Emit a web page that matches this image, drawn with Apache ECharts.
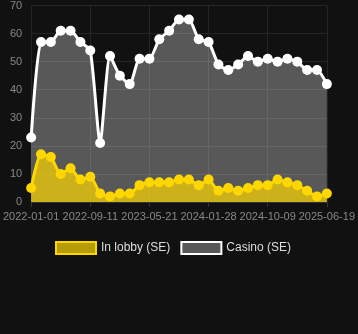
<!DOCTYPE html>
<html>
<head>
<meta charset="utf-8">
<script src="https://cdn.jsdelivr.net/npm/echarts@6/dist/echarts.min.js"></script>
<style>html,body{margin:0;padding:0;background:#111111;}#c{width:358px;height:334px;}</style>
</head>
<body>
<div id="c"></div>
<script>
const categories = ['2022-01-01','2022-02-12','2022-03-26','2022-05-07','2022-06-18','2022-07-30','2022-09-11','2022-10-23','2022-12-04','2023-01-15','2023-02-26','2023-04-09','2023-05-21','2023-07-02','2023-08-13','2023-09-24','2023-11-05','2023-12-17','2024-01-28','2024-03-10','2024-04-21','2024-06-02','2024-07-14','2024-08-26','2024-10-09','2024-11-20','2025-01-01','2025-02-12','2025-03-26','2025-05-08','2025-06-19'];
const inLobby = [5,17,16,10,12,8,9,3,2,3,3,6,7,7,7,8,8,6,8,4,5,4,5,6,6,8,7,6,4,2,3];
const casino = [23,57,57,61,61,57,54,21,52,45,42,51,51,58,61,65,65,58,57,49,47,49,52,50,51,50,51,50,47,47,42];
const yTicks = {min:0, max:70, interval:10};

const chart = echarts.init(document.getElementById('c'));
chart.setOption({
  backgroundColor:'#111111',
  animation:false,
  grid:{left:31, right:29, top:5, bottom:132},
  legend:{
    top:236, left:50, icon:'rect', itemWidth:40, itemHeight:12, itemGap:10,
    textStyle:{color:'#dddddd', fontSize:12, fontFamily:'Liberation Sans, Arial, sans-serif'},
    data:[
      {name:'In lobby (SE)', itemStyle:{color:'rgba(255,215,0,0.7)', borderColor:'#FFD700', borderWidth:2}},
      {name:'Casino (SE)', itemStyle:{color:'rgba(255,255,255,0.3)', borderColor:'#FFFFFF', borderWidth:2}}
    ]
  },
  xAxis:{
    type:'category', data:categories, boundaryGap:false,
    axisLine:{lineStyle:{color:'#333333'}},
    axisTick:{show:true, interval:5, lineStyle:{color:'#333333'}},
    axisLabel:{interval:5, color:'#888888', fontSize:11, margin:9, fontFamily:'Liberation Sans, Arial, sans-serif'},
    splitLine:{show:true, interval:5, lineStyle:{color:'#252525'}}
  },
  yAxis:{
    type:'value', min:yTicks.min, max:yTicks.max, interval:yTicks.interval,
    axisLine:{show:false}, axisTick:{show:false},
    axisLabel:{color:'#888888', fontSize:11, margin:9, fontFamily:'Liberation Sans, Arial, sans-serif'},
    splitLine:{lineStyle:{color:'#252525'}}
  },
  series:[
    {name:'Casino (SE)', type:'line', data:casino, smooth:0.2, symbol:'circle', symbolSize:10, showAllSymbol:true,
     lineStyle:{color:'#FFFFFF', width:3}, itemStyle:{color:'#FFFFFF'},
     areaStyle:{color:'#FFFFFF', opacity:0.3}},
    {name:'In lobby (SE)', type:'line', data:inLobby, smooth:0.2, symbol:'circle', symbolSize:10, showAllSymbol:true,
     lineStyle:{color:'#FFD700', width:3}, itemStyle:{color:'#FFD700'},
     areaStyle:{color:'#FFD700', opacity:0.7}}
  ]
});
</script>
</body>
</html>
